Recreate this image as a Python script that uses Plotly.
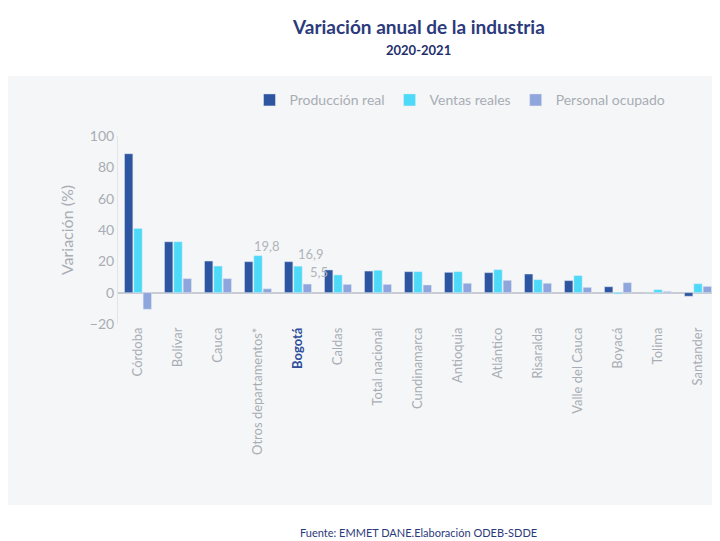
import plotly.graph_objects as go

categories = ["Córdoba","Bolívar","Cauca","Otros departamentos*","Bogotá","Caldas","Total nacional",
              "Cundinamarca","Antioquia","Atlántico","Risaralda","Valle del Cauca","Boyacá","Tolima","Santander"]
produccion = [88.7,32.5,20.2,19.8,19.8,14.5,13.8,13.4,13.0,12.8,11.9,7.7,3.8,0.2,-2.3]
ventas = [41.0,32.5,17.0,23.6,16.9,11.3,14.3,13.4,13.4,14.7,8.3,10.9,-0.8,1.9,5.7]
personal = [-10.6,9.0,9.0,2.5,5.5,5.3,5.3,4.9,6.0,7.9,6.0,3.4,6.4,0.8,4.0]

ticktext = [f"<b><span style='color:#2E4D9A'>{c}</span></b>" if c == "Bogotá" else c for c in categories]

fig = go.Figure()
for name, vals, col in [("Producción real", produccion, "#2E56A0"),
                        ("Ventas reales", ventas, "#4DD9F8"),
                        ("Personal ocupado", personal, "#8FA6DC")]:
    fig.add_bar(x=categories, y=vals, name=name, marker_color=col)

fig.add_shape(type="rect", xref="paper", yref="paper", x0=-0.2, x1=1.03, y0=-0.963, y1=1.319,
              fillcolor="#F5F6F7", line_width=0, layer="below")

i = categories.index("Bogotá")
for off, v, txt, ys in [(-0.3, produccion[i], "19,8", 16), (0.0, ventas[i], "16,9", 12), (0.3, personal[i], "5,5", 12)]:
    fig.add_annotation(x=i + off, y=v, text=txt, showarrow=False, yshift=ys,
                       xanchor="right" if off < 0 else "left", xshift=-4 if off < 0 else -2,
                       font=dict(size=13, color="#B0B4BA"))

fig.add_annotation(x=0.5, y=1.585, xref="paper", yref="paper", showarrow=False, text="<b>Variación anual de la industria</b>",
                   font=dict(size=19, color="#2B3A7A"), xanchor="center", yanchor="middle")
fig.add_annotation(x=0.5, y=1.46, xref="paper", yref="paper", showarrow=False, text="<b>2020-2021</b>",
                   font=dict(size=13, color="#1F2F6B"), xanchor="center", yanchor="middle")
fig.add_annotation(x=0.5, y=-1.11, xref="paper", yref="paper", showarrow=False,
                   text="Fuente: EMMET DANE.Elaboración ODEB-SDDE", font=dict(size=11, color="#2B3A7A"),
                   xanchor="center", yanchor="middle")

fig.update_layout(
    width=720, height=541, paper_bgcolor="white", plot_bgcolor="rgba(0,0,0,0)",
    margin=dict(l=110, r=10, t=128, b=225, autoexpand=False),
    font=dict(family="Lato, sans-serif", color="#A8ADB5"),
    barmode="group", bargap=0.3, bargroupgap=0.1,
    legend=dict(orientation="h", x=0.57, xanchor="center", y=1.19, yanchor="middle",
                font=dict(size=14, color="#A8ADB5"), bgcolor="rgba(0,0,0,0)"),
    yaxis=dict(range=[-20, 100], dtick=20, showgrid=False, zeroline=True, zerolinecolor="#C8CCD2",
               showline=True, linecolor="#E2E4E8", tickfont=dict(size=14, color="#A8ADB5"), automargin=False,
               title=dict(text="Variación (%)", font=dict(size=16, color="#A8ADB5"), standoff=12)),
    xaxis=dict(tickangle=-90, tickmode="array", tickvals=categories, ticktext=ticktext, automargin=False,
               tickfont=dict(size=13, color="#A8ADB5"), showgrid=False),
)
fig.write_html("out.html")
